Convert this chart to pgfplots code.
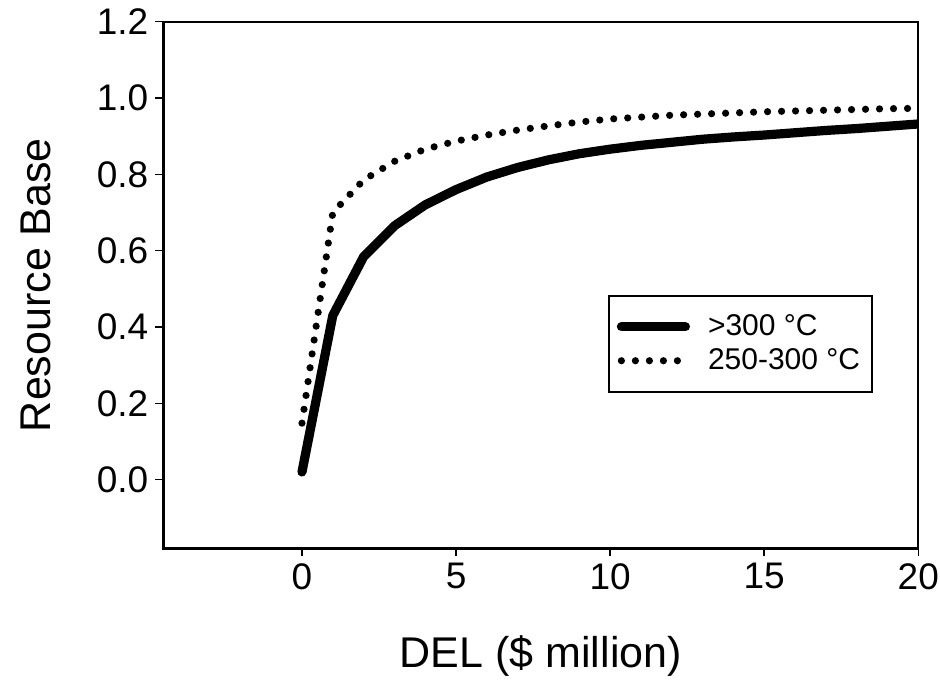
\documentclass[border=0pt]{standalone}
\usepackage{fontspec}
\setmainfont{Liberation Sans}
\usepackage{pgfplots}
\pgfplotsset{compat=1.18}

% resource base vs DEL
\pgfplotstableread{
x y
0 0.02
1 0.43
2 0.584
3 0.665
4 0.72
5 0.76
6 0.793
7 0.818
8 0.838
9 0.854
10 0.866
11 0.876
12 0.884
13 0.892
14 0.898
15 0.903
16 0.909
17 0.915
18 0.920
19 0.926
20 0.932
}\hightemp
\pgfplotstableread{
x y
0 0.148
1 0.70
2 0.785
3 0.834
4 0.866
5 0.887
6 0.903
7 0.916
8 0.927
9 0.937
10 0.945
11 0.950
12 0.955
13 0.958
14 0.961
15 0.964
16 0.966
17 0.968
18 0.970
19 0.972
20 0.973
}\midtemp

\begin{document}
\begin{tikzpicture}
\begin{axis}[scale only axis,width=377.5pt,height=263.3pt,
 xmin=-4.5,xmax=20,ymin=-0.18,ymax=1.2,
 xtick={0,5,10,15,20},ytick={0,0.2,0.4,0.6,0.8,1.0,1.2},
 yticklabel style={/pgf/number format/.cd,fixed,fixed zerofill,precision=1},
 /pgf/number format/assume math mode=true,
 tick label style={font=\fontsize{18.5}{22}\selectfont},
 tick align=outside,xtick pos=bottom,ytick pos=left,
 major tick length=4pt,tick style={black,line width=0.8pt},
 axis line style={line width=0.9pt},
 xlabel={DEL (\$ million)},ylabel={Resource Base},
 label style={font=\fontsize{21.5}{25}\selectfont},
 xlabel style={at={(axis description cs:0.5,-0.227)},anchor=base},
 ylabel style={at={(axis description cs:-0.150,0.5)},anchor=base},
 legend style={at={(0.589,0.481)},anchor=north west,draw=black,line width=0.8pt,
  font=\fontsize{15}{18}\selectfont,inner xsep=4pt,inner ysep=7.5pt,row sep=1pt},
 legend cell align=left,
 legend image code/.code={\draw[#1] (0pt,0pt) -- (32pt,0pt); \path (39pt,0pt);},
]
\addplot[black,line width=4.6pt,line cap=round,line join=round] table {\hightemp};
\addlegendentry{>300 °C}
\addplot[black,line width=3.6pt,line cap=round,dash pattern=on 0pt off 7pt] table {\midtemp};
\addlegendentry{250-300 °C}
\end{axis}
\draw[line width=1.3pt] (current axis.north west) |- (current axis.south east);
\pgfresetboundingbox
\path (current axis.south west) ++(-81.65pt,-66.35pt) rectangle ([xshift=10.85pt,yshift=10.85pt]current axis.north east);
\end{tikzpicture}
\end{document}
